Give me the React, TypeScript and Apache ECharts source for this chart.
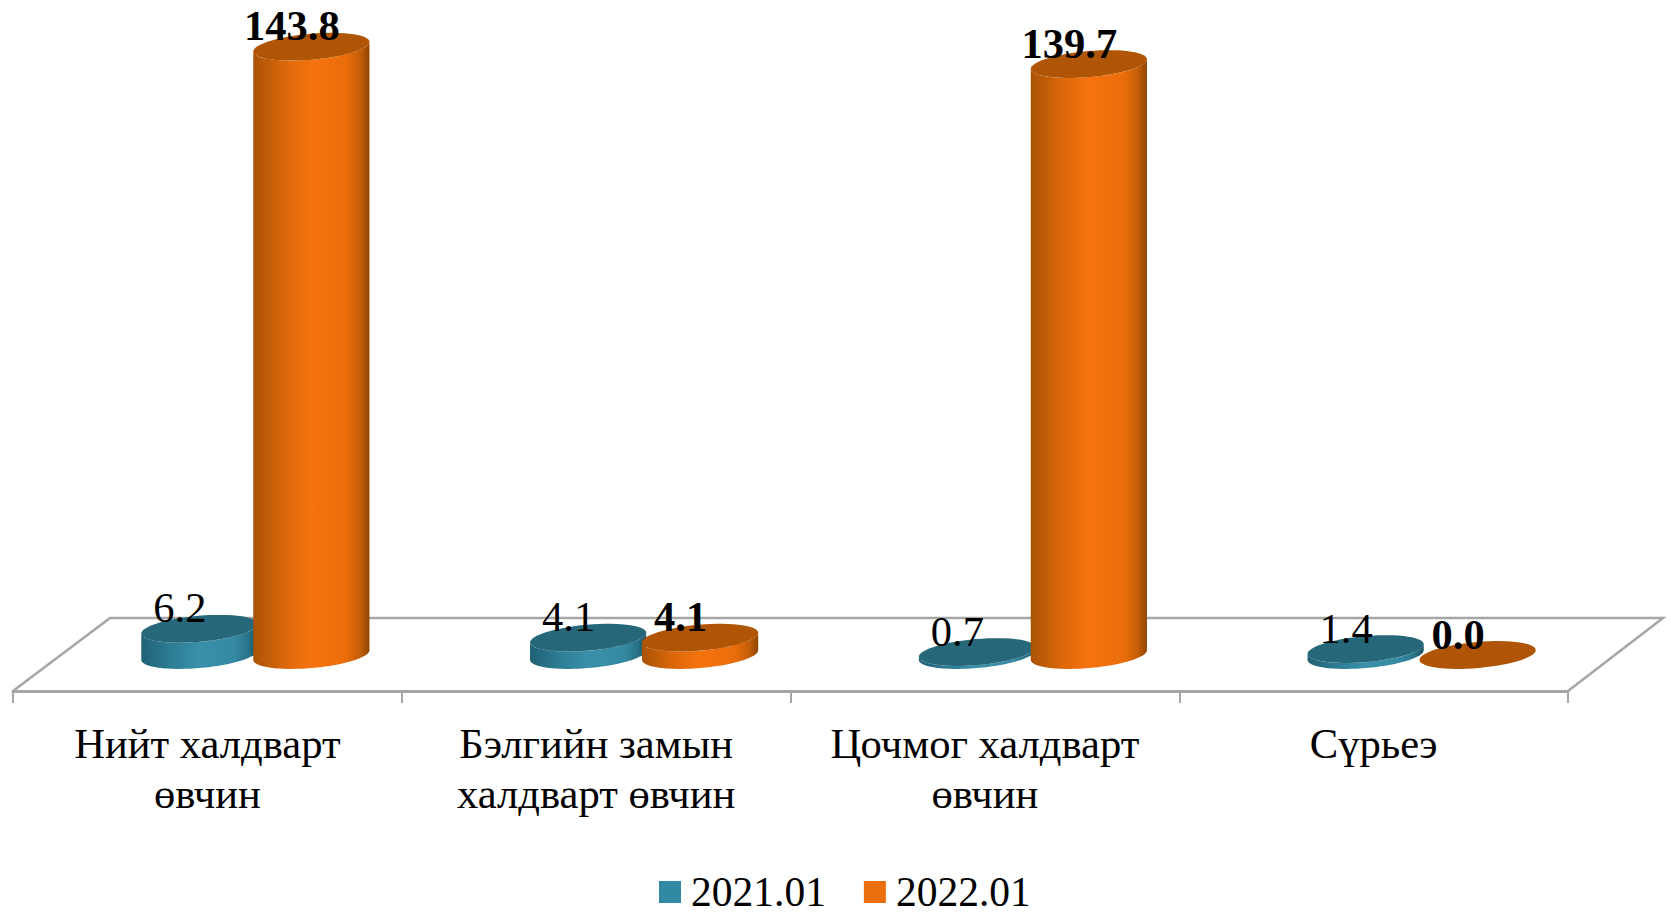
import React, { useEffect, useRef } from "react";
import * as echarts from "echarts";

const categories = ["Нийт халдварт\nөвчин", "Бэлгийн замын\nхалдварт өвчин", "Цочмог халдварт\nөвчин", "Сүрьеэ"];
const seriesNames = ["2021.01", "2022.01"];
const values2021 = [6.2, 4.1, 0.7, 1.4];
const values2022 = [143.8, 4.1, 139.7, 0.0];
const FONT = "'Liberation Serif', 'Times New Roman', serif";
const GRAY = "#a6a6a6";

const TEAL = { stops: ["#1f6073", "#2d7d94", "#3a90aa", "#358aa3", "#2a7388", "#184f60"], top: "#266879", legend: "#318aa3" };
const ORANGE = { stops: ["#a85205", "#d9660a", "#f6730e", "#ea6d0b", "#c45e07", "#8f4502"], top: "#b05505", legend: "#e96f0e" };
const STOP_AT = [0, 0.25, 0.5, 0.8, 0.92, 1];

function cylinder(pal: any, side: number, bold: boolean) {
  return (params: any, api: any) => {
    const idx = api.value(0);
    const val = api.value(1);
    const band = api.size([1, 0])[0];
    const base = api.coord([idx, 0]);
    const top = api.coord([idx, val]);
    const cx = base[0] + side * band * 0.144;
    const by = base[1];
    const ty = top[1];
    const a = band * 0.15;
    const b = 13;
    const th = (-5 * Math.PI) / 180;
    const pt = (t: number, y: number) => [
      cx + a * Math.cos(t) * Math.cos(th) - b * Math.sin(t) * Math.sin(th),
      y + a * Math.cos(t) * Math.sin(th) + b * Math.sin(t) * Math.cos(th),
    ];
    // parameter of the rightmost point of the tilted ellipse
    const t0 = Math.atan2(-b * Math.sin(th), a * Math.cos(th));
    const N = 60;
    const arc = (from: number, to: number, y: number) => {
      const out: number[][] = [];
      for (let i = 0; i <= N; i++) out.push(pt(from + ((to - from) * i) / N, y));
      return out;
    };
    const bodyPts = [...arc(t0 + Math.PI, t0, ty), ...arc(t0, t0 + Math.PI, by)];
    const fill = new echarts.graphic.LinearGradient(
      0, 0, 1, 0,
      pal.stops.map((color: string, i: number) => ({ offset: STOP_AT[i], color }))
    );
    return {
      type: "group",
      children: [
        { type: "polygon", shape: { points: bodyPts }, style: { fill } },
        { type: "polygon", shape: { points: arc(0, Math.PI * 2, ty) }, style: { fill: pal.top } },
        {
          type: "text",
          z2: 20,
          style: {
            x: cx - 19.5,
            y: ty - 21,
            text: val.toFixed(1),
            fill: "#000",
            font: `${bold ? "bold " : ""}42.5px ${FONT}`,
            align: "center",
            verticalAlign: "middle",
          },
        },
      ],
    };
  };
}

export default function App() {
  const ref = useRef<HTMLDivElement>(null);
  useEffect(() => {
    const chart = echarts.init(ref.current!, null, { renderer: "svg" });
    const pos = (arr: number[]) => arr.map((v, i) => [i, v]);
    chart.setOption({
      animation: false,
      backgroundColor: "#fff",
      legend: {
        left: 654,
        top: 866,
        itemWidth: 22,
        itemHeight: 22,
        itemGap: 38,
        icon: "rect",
        data: seriesNames,
        textStyle: { fontFamily: FONT, fontSize: 41.5, lineHeight: 40, color: "#000", padding: [0, 0, 0, 5] },
      },
      graphic: [
        {
          type: "polyline",
          silent: true,
          z: 0,
          shape: { points: [[13, 691], [110, 618], [1663, 618], [1568, 691]] },
          style: { fill: "none", stroke: GRAY, lineWidth: 2.5 },
        },
      ],
      grid: [
        { left: 61, right: 55, top: 20.5, height: 634.5 },
        { left: 13, width: 1555, top: 100, height: 591 },
      ],
      xAxis: [
        { type: "category", gridIndex: 0, data: categories, show: false },
        {
          type: "category",
          gridIndex: 1,
          data: categories,
          axisLine: { show: true, lineStyle: { color: GRAY, width: 3 } },
          axisTick: { show: true, length: 12, alignWithLabel: false, lineStyle: { color: GRAY, width: 2 } },
          axisLabel: { interval: 0, margin: 27, fontFamily: FONT, fontSize: 42.6, lineHeight: 50, color: "#000", align: "center" },
        },
      ],
      yAxis: [
        { type: "value", gridIndex: 0, min: 0, max: 150, show: false },
        { type: "value", gridIndex: 1, min: 0, max: 150, show: false },
      ],
      series: [
        {
          type: "custom",
          name: seriesNames[0],
          xAxisIndex: 0,
          yAxisIndex: 0,
          itemStyle: { color: TEAL.legend },
          data: pos(values2021),
          encode: { x: 0, y: 1 },
          renderItem: cylinder(TEAL, -1, false),
        },
        {
          type: "custom",
          name: seriesNames[1],
          xAxisIndex: 0,
          yAxisIndex: 0,
          itemStyle: { color: ORANGE.legend },
          data: pos(values2022),
          encode: { x: 0, y: 1 },
          renderItem: cylinder(ORANGE, 1, true),
        },
      ],
    });
    return () => chart.dispose();
  }, []);
  return <div ref={ref} style={{ position: "fixed", left: 0, top: 0, width: 1671, height: 916 }} />;
}
